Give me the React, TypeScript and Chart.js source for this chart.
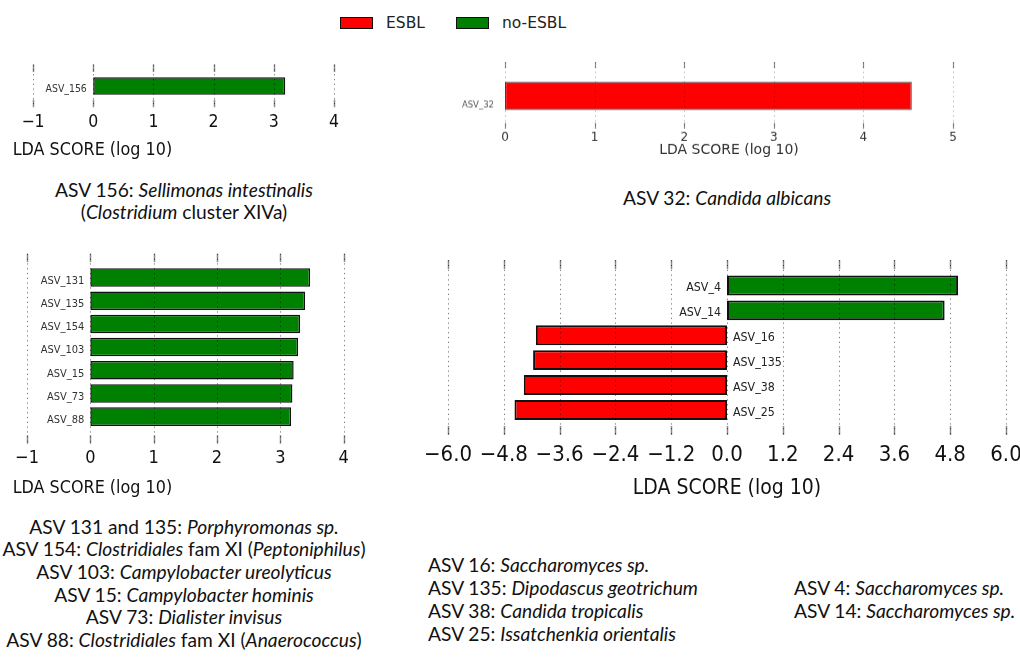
import React, { useEffect, useRef } from 'react';
import { Chart, registerables } from 'chart.js';

Chart.register(...registerables);

const COND = "'DejaVu Sans Condensed', 'DejaVu Sans', sans-serif";
const DEJA = "'DejaVu Sans', sans-serif";
const CAP = "Lato, 'Open Sans', sans-serif";

const RED = '#ff0000';
const GREEN = '#008000';

// ---- Panel A (top-left) ----
const aLabels = ['ASV_156'];
const aValues = [3.19];
const aTicks = [-1, 0, 1, 2, 3, 4];
const aTickLabels = ['−1', '0', '1', '2', '3', '4'];

// ---- Panel B (top-right) ----
const bLabels = ['ASV_32'];
const bValues = [4.54];
const bTicks = [0, 1, 2, 3, 4, 5];
const bTickLabels = ['0', '1', '2', '3', '4', '5'];

// ---- Panel C (middle-left) ----
const cLabels = ['ASV_131', 'ASV_135', 'ASV_154', 'ASV_103', 'ASV_15', 'ASV_73', 'ASV_88'];
const cValues = [3.47, 3.39, 3.31, 3.28, 3.21, 3.19, 3.17];
const cTicks = [-1, 0, 1, 2, 3, 4];
const cTickLabels = ['−1', '0', '1', '2', '3', '4'];

// ---- Panel D (middle-right) ----
const dLabels = ['ASV_4', 'ASV_14', 'ASV_16', 'ASV_135', 'ASV_38', 'ASV_25'];
const dValues = [4.97, 4.68, -4.11, -4.17, -4.37, -4.57];
const dClasses = ['no-ESBL', 'no-ESBL', 'ESBL', 'ESBL', 'ESBL', 'ESBL'];
const dTicks = [-6, -4.8, -3.6, -2.4, -1.2, 0, 1.2, 2.4, 3.6, 4.8, 6];
const dTickLabels = ['−6.0', '−4.8', '−3.6', '−2.4', '−1.2', '0.0', '1.2', '2.4', '3.6', '4.8', '6.0'];

const legendClasses = ['ESBL', 'no-ESBL'];
const classColor: Record<string, string> = { 'ESBL': RED, 'no-ESBL': GREEN };

const lefsePlugin = {
  id: 'lefse',
  afterDatasetsDraw(chart: any, _args: any, opts: any) {
    const { ctx, chartArea } = chart;
    const xs = chart.scales.x;
    const top = chartArea.top - opts.extTop;
    const bottom = chartArea.bottom + opts.extBottom;
    ctx.save();
    xs.ticks.forEach((t: any) => {
      const x = Math.round(xs.getPixelForValue(t.value)) + 0.5;
      ctx.strokeStyle = opts.gridColor;
      ctx.lineWidth = 1;
      ctx.setLineDash(opts.dash);
      ctx.beginPath();
      ctx.moveTo(x, top);
      ctx.lineTo(x, bottom);
      ctx.stroke();
      ctx.setLineDash([]);
      ctx.strokeStyle = opts.tickColor;
      ctx.lineWidth = opts.tickWidth;
      ctx.beginPath();
      ctx.moveTo(x, top);
      ctx.lineTo(x, top + opts.tickLen);
      ctx.moveTo(x, bottom - opts.tickLen);
      ctx.lineTo(x, bottom);
      ctx.stroke();
    });
    const meta = chart.getDatasetMeta(0);
    const data = chart.data.datasets[0].data;
    const labels = chart.data.labels;
    ctx.font = opts.labelFont;
    ctx.fillStyle = opts.labelColor;
    ctx.textBaseline = 'middle';
    meta.data.forEach((el: any, i: number) => {
      const { y, base } = el.getProps(['y', 'base'], true);
      if (data[i] >= 0) {
        ctx.textAlign = 'right';
        ctx.fillText(labels[i], base - opts.gap, y + opts.dy);
      } else {
        ctx.textAlign = 'left';
        ctx.fillText(labels[i], base + opts.gap, y + opts.dy);
      }
    });
    ctx.restore();
  },
};

type Spec = {
  labels: string[];
  values: number[];
  colors: string[];
  ticks: number[];
  tickLabels: string[];
  xMinPx: number;
  xMaxPx: number;
  catTop: number;
  catBottom: number;
  padT: number;
  padL: number;
  padR: number;
  axisH: number;
  tickFont: { family: string; size: number };
  tickColor: string;
  tickPadding: number;
  title?: { text: string; family: string; size: number; color: string };
  borderWidth: number;
  borderColor: string;
  decor: any;
};

function Panel({ spec }: { spec: Spec }) {
  const ref = useRef<HTMLCanvasElement | null>(null);
  useEffect(() => {
    if (!ref.current) return;
    const chart = new Chart(ref.current, {
      type: 'bar',
      data: {
        labels: spec.labels,
        datasets: [
          {
            data: spec.values,
            backgroundColor: spec.colors,
            borderColor: spec.borderColor,
            borderWidth: spec.borderWidth,
            borderSkipped: false,
            barPercentage: 0.8,
            categoryPercentage: 1,
          },
        ],
      },
      options: {
        indexAxis: 'y',
        animation: false,
        responsive: true,
        maintainAspectRatio: false,
        events: [],
        layout: { padding: { left: spec.padL, right: spec.padR, top: spec.padT, bottom: 0 } },
        scales: {
          y: { type: 'category', display: false },
          x: {
            type: 'linear',
            min: spec.ticks[0],
            max: spec.ticks[spec.ticks.length - 1],
            afterBuildTicks: (scale: any) => {
              scale.ticks = spec.ticks.map((v) => ({ value: v }));
            },
            afterFit: (scale: any) => {
              scale.height = spec.axisH;
            },
            grid: { display: false, drawTicks: false },
            border: { display: false },
            ticks: {
              autoSkip: false,
              maxRotation: 0,
              padding: spec.tickPadding,
              color: spec.tickColor,
              font: { family: spec.tickFont.family, size: spec.tickFont.size },
              callback: (_v: any, i: number) => spec.tickLabels[i],
            },
            title: spec.title
              ? {
                  display: true,
                  text: spec.title.text,
                  color: spec.title.color,
                  font: { family: spec.title.family, size: spec.title.size },
                  padding: 0,
                }
              : { display: false },
          },
        },
        plugins: {
          legend: { display: false },
          tooltip: { enabled: false },
          lefse: spec.decor,
        } as any,
      },
      plugins: [lefsePlugin],
    });
    return () => chart.destroy();
  }, []);
  const left = spec.xMinPx - spec.padL;
  const top = spec.catTop - spec.padT;
  const width = spec.xMaxPx - spec.xMinPx + spec.padL + spec.padR;
  const height = spec.padT + (spec.catBottom - spec.catTop) + spec.axisH;
  return (
    <div style={{ position: 'absolute', left, top, width, height }}>
      <canvas ref={ref} />
    </div>
  );
}

const gridDefault = {
  gridColor: 'rgba(0,0,0,0.5)',
  tickColor: 'rgba(0,0,0,0.45)',
  tickWidth: 1.5,
  dash: [1.3, 3.5],
};

const specA: Spec = {
  labels: aLabels,
  values: aValues,
  colors: aValues.map(() => GREEN),
  ticks: aTicks,
  tickLabels: aTickLabels,
  xMinPx: 33.3,
  xMaxPx: 334.3,
  catTop: 74.5,
  catBottom: 96.5,
  padT: 14,
  padL: 50,
  padR: 50,
  axisH: 45,
  tickFont: { family: COND, size: 17.5 },
  tickColor: '#111',
  tickPadding: 14.7,
  borderWidth: 1.5,
  borderColor: '#111',
  decor: { ...gridDefault, extTop: 10.5, extBottom: 10.2, tickLen: 7.5, gap: 6.4, dy: 2.8, labelFont: `10.4px ${COND}`, labelColor: '#333' },
};

const specB: Spec = {
  labels: bLabels,
  values: bValues,
  colors: bValues.map(() => RED),
  ticks: bTicks,
  tickLabels: bTickLabels,
  xMinPx: 504.5,
  xMaxPx: 952.5,
  catTop: 78,
  catBottom: 113,
  padT: 20,
  padL: 60,
  padR: 50,
  axisH: 44.9,
  tickFont: { family: DEJA, size: 12 },
  tickColor: '#333',
  tickPadding: 16.5,
  title: { text: 'LDA SCORE (log 10)', family: DEJA, size: 14, color: '#333' },
  borderWidth: 1.2,
  borderColor: '#444',
  decor: { ...gridDefault, gridColor: 'rgba(0,0,0,0.3)', tickColor: 'rgba(0,0,0,0.45)', tickWidth: 1.2, extTop: 16, extBottom: 15, tickLen: 6, gap: 11, dy: 9.5, labelFont: `8.5px ${DEJA}`, labelColor: '#555' },
};

const specC: Spec = {
  labels: cLabels,
  values: cValues,
  colors: cValues.map(() => GREEN),
  ticks: cTicks,
  tickLabels: cTickLabels,
  xMinPx: 26.67,
  xMaxPx: 343.33,
  catTop: 265.6,
  catBottom: 427.8,
  padT: 16,
  padL: 50,
  padR: 50,
  axisH: 50,
  tickFont: { family: COND, size: 18 },
  tickColor: '#111',
  tickPadding: 19.7,
  borderWidth: 1.5,
  borderColor: '#111',
  decor: { ...gridDefault, extTop: 12.3, extBottom: 15.5, tickLen: 8.4, gap: 6, dy: 3.5, labelFont: `11px ${COND}`, labelColor: '#333' },
};

const specD: Spec = {
  labels: dLabels,
  values: dValues,
  colors: dClasses.map((c) => classColor[c]),
  ticks: dTicks,
  tickLabels: dTickLabels,
  xMinPx: 447.7,
  xMaxPx: 1005.7,
  catTop: 272.9,
  catBottom: 422.3,
  padT: 16,
  padL: 50,
  padR: 50,
  axisH: 78.6,
  tickFont: { family: COND, size: 22 },
  tickColor: '#111',
  tickPadding: 19.5,
  title: { text: 'LDA SCORE (log 10)', family: COND, size: 21, color: '#111' },
  borderWidth: 2,
  borderColor: '#111',
  decor: { ...gridDefault, extTop: 12.9, extBottom: 12.7, tickLen: 9, gap: 6, dy: 2.7, labelFont: `12.3px ${COND}`, labelColor: '#222' },
};

const abs = (left: number, top: number, extra: React.CSSProperties = {}): React.CSSProperties => ({
  position: 'absolute',
  left,
  top,
  whiteSpace: 'nowrap',
  ...extra,
});

const capStyle: React.CSSProperties = { fontFamily: CAP, fontSize: 19.2, color: '#111' };

export default function App() {
  return (
    <div style={{ position: 'absolute', left: 0, top: 0, width: 1020, height: 661, overflow: 'hidden', background: '#fff' }}>
      {/* legend */}
      {legendClasses.map((c, i) => (
        <React.Fragment key={c}>
          <div style={abs(i === 0 ? 340 : 456, 16.5, { width: 31, height: 10, background: classColor[c], border: '1px solid #111' })} />
          <div style={abs(i === 0 ? 386 : 502, 12, { fontFamily: DEJA, fontSize: 15.5, lineHeight: '22px', color: '#222' })}>{c}</div>
        </React.Fragment>
      ))}

      <Panel spec={specA} />
      <Panel spec={specB} />
      <Panel spec={specC} />
      <Panel spec={specD} />

      {/* left axis titles */}
      <div style={abs(12.7, 138, { fontFamily: COND, fontSize: 17.8, lineHeight: '22px', color: '#111' })}>LDA SCORE (log 10)</div>
      <div style={abs(12.7, 476, { fontFamily: COND, fontSize: 17.8, lineHeight: '22px', color: '#111' })}>LDA SCORE (log 10)</div>

      {/* captions A */}
      <div style={abs(0, 179, { ...capStyle, width: 368, textAlign: 'center', lineHeight: '22px' })}>
        <div>ASV 156: <i>Sellimonas intestinalis</i></div>
        <div>(<i>Clostridium</i> cluster XIVa)</div>
      </div>

      {/* caption B */}
      <div style={abs(623, 187, { ...capStyle, lineHeight: '22px' })}>
        ASV 32: <i>Candida albicans</i>
      </div>

      {/* captions C */}
      <div style={abs(0, 515.6, { ...capStyle, width: 368, textAlign: 'center', lineHeight: '22.7px' })}>
        <div>ASV 131 and 135: <i>Porphyromonas sp.</i></div>
        <div>ASV 154: <i>Clostridiales</i> fam XI (<i>Peptoniphilus</i>)</div>
        <div>ASV 103: <i>Campylobacter ureolyticus</i></div>
        <div>ASV 15: <i>Campylobacter hominis</i></div>
        <div>ASV 73: <i>Dialister invisus</i></div>
        <div>ASV 88: <i>Clostridiales</i> fam XI (<i>Anaerococcus</i>)</div>
      </div>

      {/* captions D */}
      <div style={abs(428, 552.5, { ...capStyle, lineHeight: '23px' })}>
        <div>ASV 16: <i>Saccharomyces sp.</i></div>
        <div>ASV 135: <i>Dipodascus geotrichum</i></div>
        <div>ASV 38: <i>Candida tropicalis</i></div>
        <div>ASV 25: <i>Issatchenkia orientalis</i></div>
      </div>
      <div style={abs(794, 575.5, { ...capStyle, lineHeight: '23px' })}>
        <div>ASV 4: <i>Saccharomyces sp.</i></div>
        <div>ASV 14: <i>Saccharomyces sp.</i></div>
      </div>
    </div>
  );
}
